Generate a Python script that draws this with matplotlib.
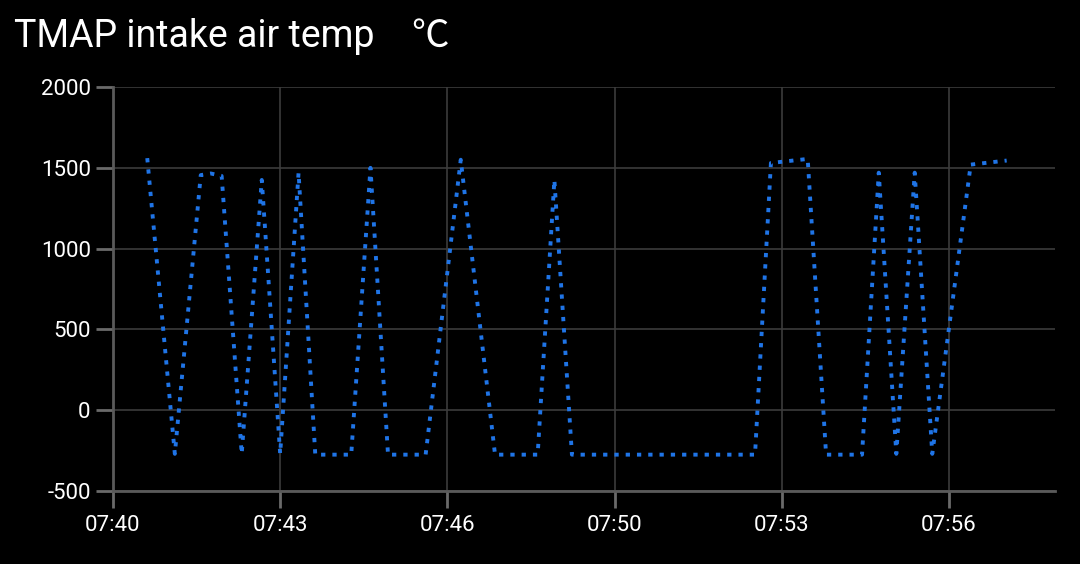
import matplotlib
matplotlib.use("Agg")
import matplotlib.pyplot as plt
import matplotlib.dates as mdates
from datetime import datetime, timedelta

# sample times (HH:MM:SS) and readings in degC
times = [
    "07:40:41", "07:41:14", "07:41:45", "07:41:57", "07:42:10", "07:42:34",
    "07:42:58", "07:43:20", "07:43:42", "07:44:02", "07:44:45", "07:45:08",
    "07:45:29", "07:46:14", "07:46:56", "07:47:37", "07:48:28", "07:48:48",
    "07:49:09", "07:52:48", "07:53:07", "07:53:51", "07:54:13", "07:54:56",
    "07:55:16", "07:55:37", "07:55:59", "07:56:20", "07:57:06", "07:57:49",
]
values = [
    1560, -270, 1455, 1465, 1450, -270,
    1425, -270, 1470, -275, -275, 1500,
    -275, -275, 1550, -275, -275, 1425,
    -275, -275, 1530, 1555, -275, -275,
    1470, -270, 1470, -270, 1520, 1545,
]

yticks = [-500, 0, 500, 1000, 1500, 2000]
title = "TMAP intake air temp\u3000\u2103"

day = "2024-01-01 "
t = [datetime.strptime(day + s, "%Y-%m-%d %H:%M:%S") for s in times]
t0 = datetime.strptime(day + "07:40:00", "%Y-%m-%d %H:%M:%S")

plt.rcParams["font.family"] = ["Roboto", "Noto Sans CJK SC", "DejaVu Sans"]
plt.rcParams["axes.unicode_minus"] = False

fig = plt.figure(figsize=(10.8, 5.64), dpi=100, facecolor="black")
ax = fig.add_axes([0.1046, 0.1294, 0.8724, 0.7163], facecolor="black")

ax.plot(t, values, color="#1f74e6", linewidth=2.8,
        linestyle=(0, (1.1, 1.8)), dash_capstyle="butt")

ax.set_ylim(-500, 2000)
ax.set_yticks(yticks)
ax.set_xlim(t0, t0 + timedelta(seconds=1127))
xt = [t0 + timedelta(seconds=200 * i) for i in range(6)]
ax.set_xticks(xt)
ax.xaxis.set_major_formatter(mdates.DateFormatter("%H:%M"))

ax.grid(True, color="#3c3c3c", linewidth=1.2)
ax.set_axisbelow(True)
for s in ["top", "right"]:
    ax.spines[s].set_visible(False)
for s in ["left", "bottom"]:
    ax.spines[s].set_color("#5a5a5a")
    ax.spines[s].set_linewidth(2)

ax.tick_params(axis="both", colors="#6a6a6a", labelcolor="white",
               labelsize=16, length=12, width=2)
ax.tick_params(axis="x", pad=5)
ax.tick_params(axis="y", pad=4, length=12)

fig.text(0.013, 0.935, title, color="white", fontsize=27, va="center", ha="left")

fig.savefig("out.png", dpi=100, facecolor="black")
